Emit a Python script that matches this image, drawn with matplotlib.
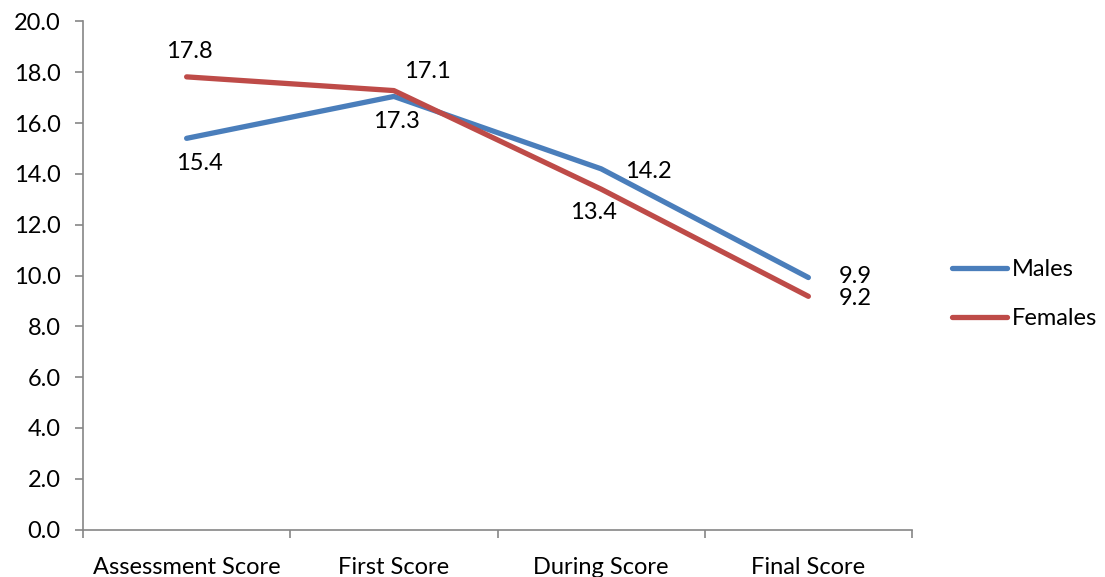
import matplotlib
matplotlib.use("Agg")
import matplotlib.pyplot as plt

categories = ["Assessment Score", "First Score", "During Score", "Final Score"]
males = [15.4, 17.05, 14.2, 9.92]
females = [17.82, 17.28, 13.4, 9.18]
male_labels = ["15.4", "17.1", "14.2", "9.9"]
female_labels = ["17.8", "17.3", "13.4", "9.2"]
yticks = [0, 2, 4, 6, 8, 10, 12, 14, 16, 18, 20]

plt.rcParams['font.family'] = ['Lato', 'DejaVu Sans']
blue = "#4A7EBB"
red = "#BE4B48"
axc = "#868686"

fig = plt.figure(figsize=(11.05, 5.77), dpi=100)
ax = fig.add_axes([83/1105, 1-529.5/577, (912-83)/1105, (529.5-21.5)/577])

x = list(range(len(categories)))
l1, = ax.plot(x, males, color=blue, lw=3.8, solid_capstyle='round', label="Males")
l2, = ax.plot(x, females, color=red, lw=3.8, solid_capstyle='round', label="Females")

fs = 17
# label offsets in pixels (dx, dy)
moff = [(13, -25), (34, 25), (47, -3), (47, 1)]
foff = [(3, 25), (3, -31), (-8, -23), (47, -2)]
for i in range(4):
    ax.annotate(male_labels[i], (x[i], males[i]), xytext=moff[i], textcoords='offset pixels',
                ha='center', va='center', fontsize=fs, color='black')
    ax.annotate(female_labels[i], (x[i], females[i]), xytext=foff[i], textcoords='offset pixels',
                ha='center', va='center', fontsize=fs, color='black')

ax.set_xlim(-0.5, 3.5)
ax.set_ylim(0, 20)
ax.set_yticks(yticks)
ax.set_yticklabels([f"{v:.1f}" for v in yticks], fontsize=fs)
ax.set_xticks(x)
ax.set_xticklabels(categories, fontsize=fs)
ax.set_xticks([-0.5, 0.5, 1.5, 2.5, 3.5], minor=True)
ax.tick_params(axis='x', which='major', length=0, pad=20)
ax.tick_params(axis='x', which='minor', length=6, color=axc, width=1.2)
ax.tick_params(axis='y', length=6, color=axc, width=1.2, pad=10)
for s in ['top', 'right']:
    ax.spines[s].set_visible(False)
for s in ['left', 'bottom']:
    ax.spines[s].set_color(axc)
    ax.spines[s].set_linewidth(1.2)

fig.legend(handles=[l1, l2], loc='center left', bbox_to_anchor=(943/1105, 1-294/577),
           frameon=False, fontsize=fs, handlelength=2.3, handletextpad=0.2,
           labelspacing=1.2, borderaxespad=0)

fig.savefig("out.png", dpi=100)
